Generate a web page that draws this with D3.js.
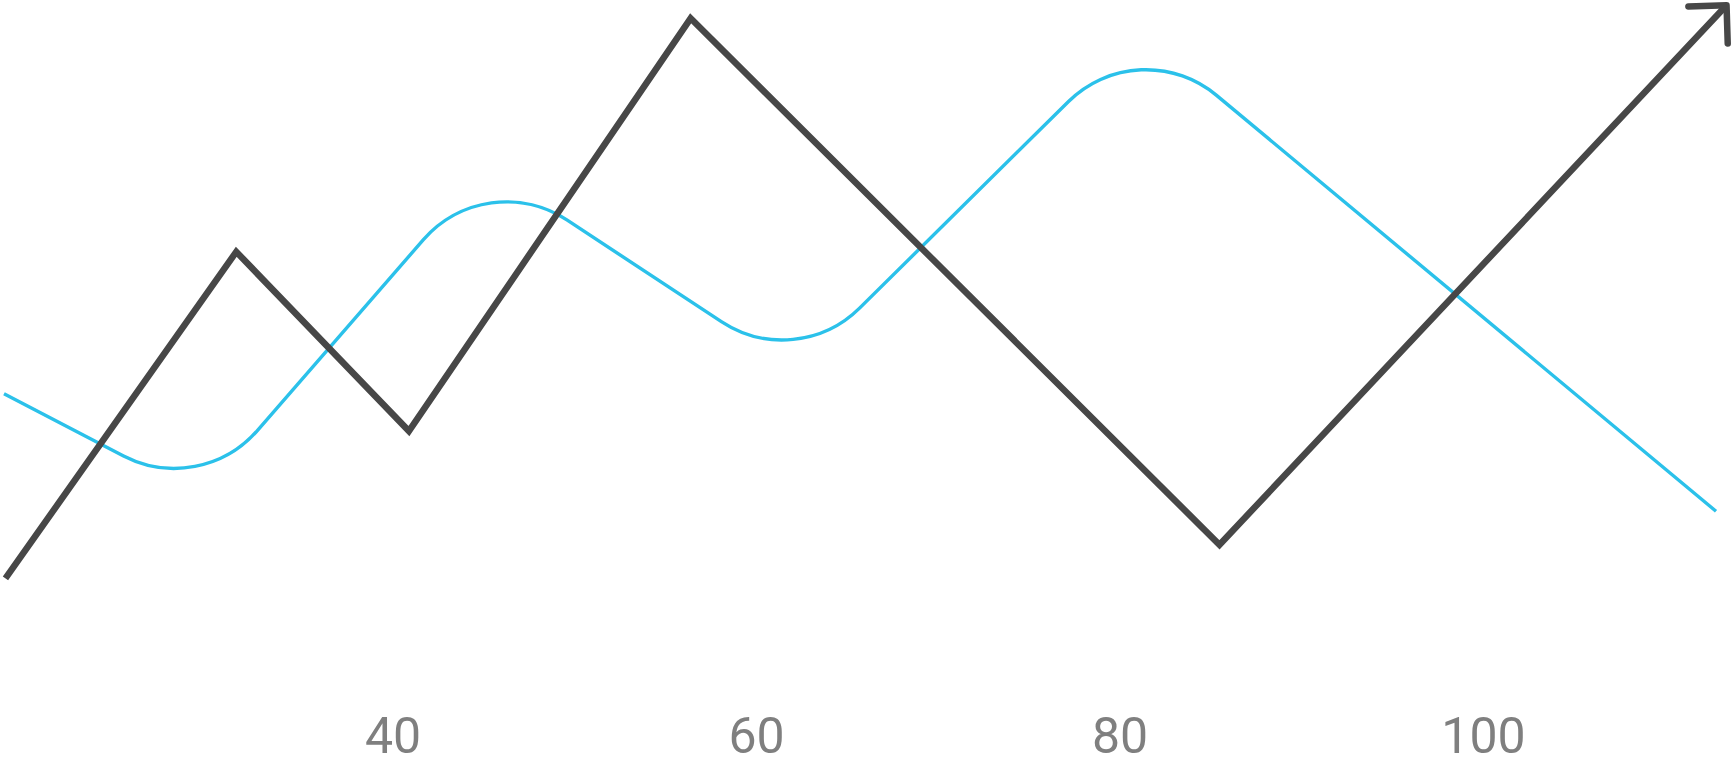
<!DOCTYPE html>
<html>
<head>
<meta charset="utf-8">
<script src="https://cdn.jsdelivr.net/npm/d3@7"></script>
<style>
  html, body { margin: 0; padding: 0; background: #ffffff; }
  svg { display: block; }
</style>
</head>
<body>
<svg id="chart" width="1732" height="763"></svg>
<script>
// ---- data (x in axis units, y in 0-100 relative units) ----
const tickValues = [40, 60, 80, 100];
const tickLabels = ["40", "60", "80", "100"];

const darkX = [18.7, 31.4, 40.9, 56.4, 85.5, 113.4];
const darkY = [24.2, 67.0, 43.5, 97.6, 28.6, 99.3];

const blueX = [18.62, 29.43, 45.17, 62.21, 81.10, 112.82];
const blueY = [48.4, 35.0, 78.1, 51.4, 95.9, 33.0];

// ---- layout ----
const W = 1732, H = 763;
const svg = d3.select("#chart");

const x = d3.scaleLinear().domain([18.4, 113.7]).range([0, W]);
const y = d3.scaleLinear().domain([0, 100]).range([H, 0]);

// arrow marker
svg.append("defs").append("marker")
  .attr("id", "arrow")
  .attr("markerUnits", "userSpaceOnUse")
  .attr("viewBox", "-40 -40 50 80")
  .attr("refX", 0).attr("refY", 0)
  .attr("markerWidth", 50).attr("markerHeight", 80)
  .attr("orient", "auto")
  .style("overflow", "visible")
  .append("path")
  .attr("d", "M-27,-27 L0,0 L-27,27")
  .attr("fill", "none")
  .attr("stroke", "#474747")
  .attr("stroke-width", 6.5)
  .attr("stroke-linecap", "round")
  .attr("stroke-linejoin", "round");

// blue rounded polyline
const bluePts = blueX.map((d, i) => [x(d), y(blueY[i])]);
const radius = 110;
const p = d3.path();
p.moveTo(bluePts[0][0], bluePts[0][1]);
for (let i = 1; i < bluePts.length - 1; i++) {
  p.arcTo(bluePts[i][0], bluePts[i][1], bluePts[i + 1][0], bluePts[i + 1][1], radius);
}
p.lineTo(bluePts[bluePts.length - 1][0], bluePts[bluePts.length - 1][1]);

svg.append("path")
  .attr("d", p.toString())
  .attr("fill", "none")
  .attr("stroke", "#2bc1ea")
  .attr("stroke-width", 3.4);

// dark polyline with arrow
const darkData = darkX.map((d, i) => [d, darkY[i]]);
const line = d3.line().x(d => x(d[0])).y(d => y(d[1]));
svg.append("path")
  .datum(darkData)
  .attr("d", line)
  .attr("fill", "none")
  .attr("stroke", "#474747")
  .attr("stroke-width", 6.5)
  .attr("stroke-linejoin", "miter")
  .attr("stroke-miterlimit", 10)
  .attr("marker-end", "url(#arrow)");

// x axis labels
const axis = d3.axisBottom(x)
  .tickValues(tickValues)
  .tickFormat((d, i) => tickLabels[i])
  .tickSize(0)
  .tickPadding(0);

const g = svg.append("g")
  .attr("transform", "translate(0,717)")
  .call(axis);
g.select(".domain").remove();
g.selectAll("text")
  .attr("fill", "#7f7f7f")
  .style("font-family", "Roboto, sans-serif")
  .style("font-size", "50px");
</script>
</body>
</html>
